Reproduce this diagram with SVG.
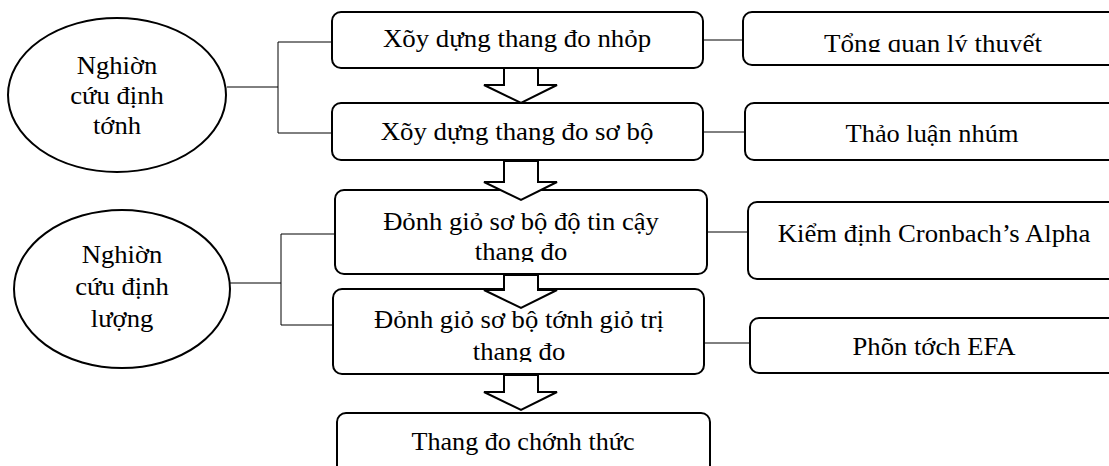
<svg xmlns="http://www.w3.org/2000/svg" width="1109" height="466" viewBox="0 0 1109 466">
<style>
.box{fill:#fff;stroke:#000;stroke-width:2}
.ell{fill:#fff;stroke:#000;stroke-width:2}
.arr{fill:#fff;stroke:#000;stroke-width:2;stroke-linejoin:miter}
.con{fill:none;stroke:#000;stroke-width:1}
.t{font-family:'Liberation Serif','Times New Roman',serif;font-size:25px;fill:#000;text-anchor:middle}
</style>
<defs>
<clipPath id="c3"><rect x="335" y="190" width="372" height="72"/></clipPath>
<clipPath id="c4"><rect x="333" y="289" width="371" height="73"/></clipPath>
<clipPath id="cr1"><rect x="743" y="12" width="380" height="40"/></clipPath>
</defs>
<g id="connectors">
<path class="con" d="M227,87H278M278,42V133M278,42H332M278,133H332"/>
<path class="con" d="M703,40H743M703,132H745"/>
<path class="con" d="M230,283H281M281,234V325M281,234H335M281,325H333"/>
<path class="con" d="M707,232H748M704,343H750"/>
</g>
<g class="t">
<g id="ell1"><ellipse class="ell" cx="117" cy="95" rx="109" ry="77"/>
<text transform="translate(117,74) scale(1.065,1)">Nghiờn</text><text transform="translate(117,104) scale(1.065,1)">cứu định</text><text transform="translate(117,134) scale(1.065,1)">tớnh</text></g>
<g id="ell2"><ellipse class="ell" cx="122" cy="289" rx="108" ry="79"/>
<text transform="translate(122,263) scale(1.065,1)">Nghiờn</text><text transform="translate(122,295) scale(1.065,1)">cứu định</text><text transform="translate(122,327) scale(1.065,1)">lượng</text></g>
<g id="box1"><rect class="box" x="332" y="12" width="371" height="56" rx="9"/><text transform="translate(517,47) scale(1.075,1)">Xõy dựng thang đo nhỏp</text></g>
<g id="box2"><rect class="box" x="332" y="103" width="371" height="57" rx="9"/><text transform="translate(517,140) scale(1.075,1)">Xõy dựng thang đo sơ bộ</text></g>
<g id="box3"><rect class="box" x="335" y="190" width="372" height="84" rx="9"/>
<g clip-path="url(#c3)"><text transform="translate(521,230) scale(1.065,1)">Đỏnh giỏ sơ bộ độ tin cậy</text><text transform="translate(521,260) scale(1.065,1)">thang đo</text></g></g>
<g id="box4"><rect class="box" x="333" y="289" width="371" height="85" rx="9"/>
<g clip-path="url(#c4)"><text transform="translate(519,328) scale(1.065,1)">Đỏnh giỏ sơ bộ tớnh giỏ trị</text><text transform="translate(519,360) scale(1.065,1)">thang đo</text></g></g>
<g id="box5"><rect class="box" x="337" y="413" width="373" height="70" rx="9"/><text transform="translate(523,450) scale(1.045,1)">Thang đo chớnh thức</text></g>
<g id="r1"><rect class="box" x="743" y="12" width="382" height="53" rx="9"/><g clip-path="url(#cr1)"><text transform="translate(933,52) scale(1.08,1)">Tổng quan lý thuyết</text></g></g>
<g id="r2"><rect class="box" x="745" y="103" width="380" height="57" rx="9"/><text transform="translate(932,142) scale(1.055,1)">Thảo luận nhúm</text></g>
<g id="r3"><rect class="box" x="748" y="202" width="380" height="77" rx="9"/><text transform="translate(934,242) scale(1.07,1)">Kiểm định Cronbach’s Alpha</text></g>
<g id="r4"><rect class="box" x="750" y="318" width="380" height="55" rx="9"/><text transform="translate(934,355) scale(1.065,1)">Phõn tớch EFA</text></g>
</g>
<g id="arrows">
<path class="arr" d="M504,68V85H484L521,103L557,85H538V68Z"/>
<path class="arr" d="M504,161V182H484L521,200L557,182H538V161Z"/>
<path class="arr" d="M504,275V290H484L521,308L557,290H538V275Z"/>
<path class="arr" d="M504,375V392H484L521,410L557,392H538V375Z"/>
</g>
</svg>
